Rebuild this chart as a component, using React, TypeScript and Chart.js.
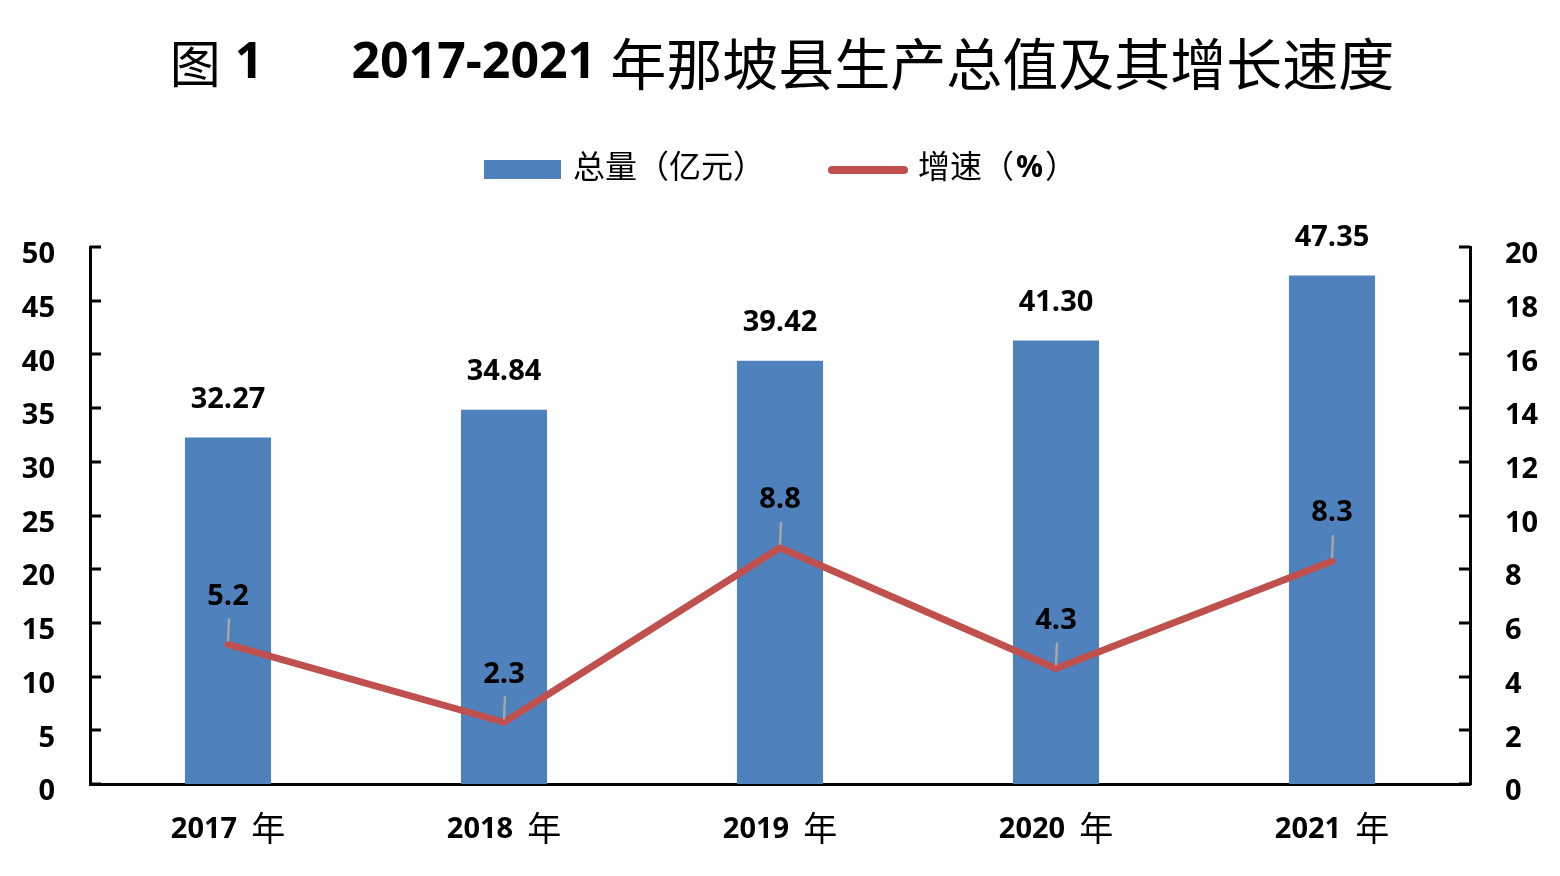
import { useEffect, useRef } from "react"
import { Chart, registerables } from "chart.js"

Chart.register(...registerables)

const categories = ["2017", "2018", "2019", "2020", "2021"]
const totals = [32.27, 34.84, 39.42, 41.3, 47.35]
const growth = [5.2, 2.3, 8.8, 4.3, 8.3]
const leftTicks = { min: 0, max: 50, step: 5 }
const rightTicks = { min: 0, max: 20, step: 2 }

const NUM = "'Open Sans', 'Noto Sans', sans-serif"
const CJK = "'Noto Sans CJK SC', sans-serif"
const BLUE = "#4F81BD"
const RED = "#C0504D"

// title, legend, inner tick marks, data labels and x labels
const overlay = {
  id: "overlay",
  beforeDraw(chart: Chart) {
    const ctx = chart.ctx
    ctx.save()
    ctx.fillStyle = "#fff"
    ctx.fillRect(0, 0, chart.width, chart.height)

    // title, mixed fonts
    const parts: [string, string, number][] = [
      ["图", `normal 51px ${CJK}`, 14],
      ["1", `bold 50px ${NUM}`, 88],
      ["2017-2021", `bold 50px ${NUM}`, 14],
      ["年那坡县生产总值及其增长速度", `normal 56px ${CJK}`, 0],
    ]
    let total = 0
    parts.forEach(([t, f, g]) => {
      ctx.font = f
      total += ctx.measureText(t).width + g
    })
    let x = 782 - total / 2
    ctx.textBaseline = "middle"
    ctx.fillStyle = "#000"
    parts.forEach(([t, f, g]) => {
      ctx.font = f
      ctx.fillText(t, x, 64)
      x += ctx.measureText(t).width + g
    })

    // legend
    ctx.fillStyle = BLUE
    ctx.fillRect(484, 160, 77, 19)
    ctx.fillStyle = "#000"
    ctx.font = `normal 32px ${CJK}`
    ctx.fillText("总量（亿元）", 573, 166)
    ctx.strokeStyle = RED
    ctx.lineWidth = 8
    ctx.lineCap = "round"
    ctx.beginPath()
    ctx.moveTo(832, 170)
    ctx.lineTo(904, 170)
    ctx.stroke()
    ctx.fillText("增速（", 918, 166)
    const w1 = ctx.measureText("增速（").width
    ctx.font = `bold 30px ${NUM}`
    ctx.fillText("%", 918 + w1 + 2, 168)
    const w2 = ctx.measureText("%").width
    ctx.font = `normal 32px ${CJK}`
    ctx.fillText("）", 918 + w1 + w2 + 4, 166)
    ctx.restore()
  },
  afterDatasetsDraw(chart: Chart) {
    const ctx = chart.ctx
    const xs = chart.scales.x
    const y = chart.scales.y
    const y1 = chart.scales.y1
    ctx.save()

    // tick marks pointing into the plot
    ctx.strokeStyle = "#000"
    ctx.lineWidth = 3
    y.ticks.forEach((t) => {
      const py = Math.round(y.getPixelForValue(t.value))
      ctx.beginPath()
      ctx.moveTo(xs.left, py)
      ctx.lineTo(xs.left + 11, py)
      ctx.stroke()
    })
    y1.ticks.forEach((t) => {
      const py = Math.round(y1.getPixelForValue(t.value))
      ctx.beginPath()
      ctx.moveTo(xs.right - 11, py)
      ctx.lineTo(xs.right, py)
      ctx.stroke()
    })

    ctx.fillStyle = "#000"
    ctx.textAlign = "center"
    ctx.textBaseline = "middle"
    ctx.font = `bold 29px ${NUM}`

    // bar values
    chart.getDatasetMeta(0).data.forEach((bar, i) => {
      ctx.fillText(totals[i].toFixed(2), bar.x, bar.y - 38)
    })

    // growth values with leader lines
    chart.getDatasetMeta(1).data.forEach((pt, i) => {
      ctx.strokeStyle = "#A6A6A6"
      ctx.lineWidth = 2.5
      ctx.beginPath()
      ctx.moveTo(pt.x + 1, pt.y - 26)
      ctx.lineTo(pt.x, pt.y - 3)
      ctx.stroke()
      ctx.fillText(growth[i].toFixed(1), pt.x, pt.y - 48)
    })

    // x labels
    categories.forEach((c, i) => {
      const cx = xs.getPixelForValue(i)
      ctx.font = `bold 29px ${NUM}`
      const a = ctx.measureText(c).width
      ctx.font = `normal 34px ${CJK}`
      const b = ctx.measureText("年").width
      const gap = 14
      const start = cx - (a + gap + b) / 2
      ctx.textAlign = "left"
      ctx.font = `bold 29px ${NUM}`
      ctx.fillText(c, start, 830)
      ctx.font = `normal 34px ${CJK}`
      ctx.fillText("年", start + a + gap, 828)
    })
    ctx.restore()
  },
}

export default function App() {
  const chartRef = useRef<HTMLCanvasElement>(null)
  const chartInstance = useRef<Chart | null>(null)

  useEffect(() => {
    if (!chartRef.current) return
    if (chartInstance.current) chartInstance.current.destroy()
    const ctx = chartRef.current.getContext("2d")
    if (!ctx) return

    const tickFont = { family: NUM, size: 29, weight: "bold" as const }

    chartInstance.current = new Chart(ctx, {
      type: "bar",
      data: {
        labels: categories,
        datasets: [
          {
            type: "bar",
            label: "总量（亿元）",
            data: totals,
            backgroundColor: BLUE,
            barPercentage: 0.312,
            categoryPercentage: 1,
            yAxisID: "y",
            order: 2,
          },
          {
            type: "line",
            label: "增速（%）",
            data: growth,
            borderColor: RED,
            borderWidth: 7,
            borderJoinStyle: "round",
            borderCapStyle: "round",
            pointRadius: 0,
            tension: 0,
            yAxisID: "y1",
            order: 1,
          },
        ],
      },
      options: {
        responsive: false,
        animation: false,
        layout: { padding: { top: 247, left: 0, right: 0, bottom: 0 } },
        plugins: {
          legend: { display: false },
          title: { display: false },
          tooltip: { enabled: false },
        },
        scales: {
          x: {
            grid: { display: false },
            border: { display: true, color: "#000", width: 3 },
            ticks: { display: false },
            afterFit: (s) => {
              s.height = 92
            },
          },
          y: {
            position: "left",
            min: leftTicks.min,
            max: leftTicks.max,
            grid: { display: false },
            border: { display: true, color: "#000", width: 3 },
            ticks: { stepSize: leftTicks.step, font: tickFont, color: "#000", padding: 27, labelOffset: 8 },
            afterFit: (s) => {
              s.width = 90
            },
          },
          y1: {
            position: "right",
            min: rightTicks.min,
            max: rightTicks.max,
            grid: { display: false },
            border: { display: true, color: "#000", width: 3 },
            ticks: { stepSize: rightTicks.step, font: tickFont, color: "#000", padding: 27, labelOffset: 8 },
            afterFit: (s) => {
              s.width = 90
            },
          },
        },
      },
      plugins: [overlay],
    })

    return () => {
      if (chartInstance.current) {
        chartInstance.current.destroy()
        chartInstance.current = null
      }
    }
  }, [])

  return (
    <div style={{ position: "absolute", left: 0, top: 0, width: 1560, height: 876, background: "#fff" }}>
      <canvas ref={chartRef} width={1560} height={876} style={{ width: 1560, height: 876, display: "block" }} />
    </div>
  )
}
